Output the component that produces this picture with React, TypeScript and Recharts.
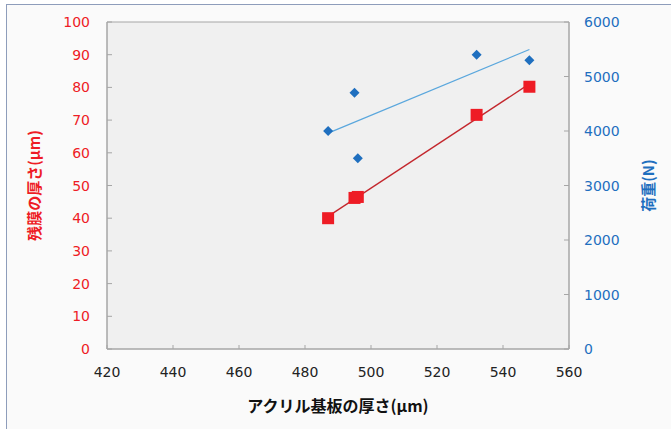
import React from 'react';
import {
  ScatterChart,
  Scatter,
  XAxis,
  YAxis,
  ReferenceArea,
} from 'recharts';

// アクリル基板の厚さ (µm)
const thickness = [487, 495, 496, 532, 548];
// 残膜の厚さ (µm)
const residual = [40, 46.2, 46.5, 71.6, 80.2];
// 荷重 (N)
const load = [4000, 4700, 3500, 5400, 5300];

const xTicks = [420, 440, 460, 480, 500, 520, 540, 560];
const leftTicks = [0, 10, 20, 30, 40, 50, 60, 70, 80, 90, 100];
const rightTicks = [0, 1000, 2000, 3000, 4000, 5000, 6000];

const residualData = thickness.map((x, i) => ({ x, y: residual[i] }));
const loadData = thickness.map((x, i) => ({ x, y: load[i] }));

const RED = '#ee1c25';
const BLUE = '#1f6fbf';
const GRID = '#a6a6a6';
const FONT = '"DejaVu Sans", sans-serif';
const JP = '"Noto Sans CJK JP", sans-serif';

const XTick = (props: any) => {
  const { x, y, payload } = props;
  return (
    <g>
      <line x1={x} y1={y} x2={x} y2={y - 4} stroke={GRID} />
      <text x={x} y={y + 23} textAnchor="middle" dominantBaseline="central" fontSize={14} fill="#222" fontFamily={FONT}>
        {payload.value}
      </text>
    </g>
  );
};

const LeftTick = (props: any) => {
  const { x, y, payload } = props;
  return (
    <g>
      <line x1={x} y1={y} x2={x + 5} y2={y} stroke={GRID} />
      <text x={x - 17} y={y} textAnchor="end" dominantBaseline="central" fontSize={14} fill={RED} fontFamily={FONT}>
        {payload.value}
      </text>
    </g>
  );
};

const RightTick = (props: any) => {
  const { x, y, payload } = props;
  return (
    <g>
      <line x1={x} y1={y} x2={x - 5} y2={y} stroke={GRID} />
      <text x={x + 15} y={y} textAnchor="start" dominantBaseline="central" fontSize={14} fill={BLUE} fontFamily={FONT}>
        {payload.value}
      </text>
    </g>
  );
};

const Square = (props: any) => {
  const { cx, cy } = props;
  if (cx == null || cy == null) return null;
  return <rect x={cx - 6} y={cy - 6} width={12} height={12} fill={RED} />;
};

const Diamond = (props: any) => {
  const { cx, cy } = props;
  if (cx == null || cy == null) return null;
  const r = 5;
  return (
    <polygon
      points={`${cx},${cy - r} ${cx + r},${cy} ${cx},${cy + r} ${cx - r},${cy}`}
      fill={BLUE}
    />
  );
};

const LeftTitle = (props: any) => {
  const { viewBox } = props;
  const cy = viewBox.y + viewBox.height / 2;
  return (
    <text
      x={33}
      y={cy}
      transform={`rotate(-90, 33, ${cy})`}
      textAnchor="middle"
      dominantBaseline="central"
      fontSize={15}
      fontWeight="bold"
      fill={RED}
      fontFamily={JP}
    >
      残膜の厚さ(μm)
    </text>
  );
};

const RightTitle = (props: any) => {
  const { viewBox } = props;
  const cy = viewBox.y + viewBox.height / 2;
  const cx = viewBox.x + 78;
  return (
    <text
      x={cx}
      y={cy}
      transform={`rotate(-90, ${cx}, ${cy})`}
      textAnchor="middle"
      dominantBaseline="central"
      fontSize={15}
      fontWeight="bold"
      fill={BLUE}
      fontFamily={JP}
    >
      荷重(N)
    </text>
  );
};

const BottomTitle = (props: any) => {
  const { viewBox } = props;
  const cx = viewBox.x + viewBox.width / 2;
  return (
    <text
      x={cx}
      y={viewBox.y + 56}
      textAnchor="middle"
      dominantBaseline="central"
      fontSize={16}
      fontWeight="bold"
      fill="#111"
      fontFamily={JP}
    >
      アクリル基板の厚さ(μm)
    </text>
  );
};

export default function App() {
  return (
    <div
      style={{
        position: 'fixed',
        left: 0,
        top: 0,
        width: 671,
        height: 429,
        overflow: 'hidden',
        background: '#ffffff',
      }}
    >
      <div
        style={{
          position: 'absolute',
          left: 6,
          top: 4,
          width: 700,
          height: 500,
          border: '1.5px solid #8e9dbb',
          background: '#fafafa',
        }}
      />
      <div style={{ position: 'absolute', left: 0, top: 0 }}>
        <ScatterChart
          width={671}
          height={429}
          margin={{ top: 22, right: 0, bottom: 0, left: 0 }}
        >
          <XAxis
            type="number"
            dataKey="x"
            domain={[420, 560]}
            ticks={xTicks}
            height={80}
            tickSize={0}
            tickMargin={0}
            axisLine={{ stroke: GRID }}
            tick={<XTick />}
            tickLine={false}
            interval={0}
            label={<BottomTitle />}
          />
          <YAxis
            yAxisId="left"
            type="number"
            dataKey="y"
            domain={[0, 100]}
            ticks={leftTicks}
            width={107}
            tickSize={0}
            tickMargin={0}
            axisLine={{ stroke: GRID }}
            tick={<LeftTick />}
            tickLine={false}
            interval={0}
            label={<LeftTitle />}
          />
          <YAxis
            yAxisId="right"
            orientation="right"
            type="number"
            dataKey="y"
            domain={[0, 6000]}
            ticks={rightTicks}
            width={102}
            tickSize={0}
            tickMargin={0}
            axisLine={{ stroke: GRID }}
            tick={<RightTick />}
            tickLine={false}
            interval={0}
            label={<RightTitle />}
          />
          <ReferenceArea
            yAxisId="left"
            x1={420}
            x2={560}
            y1={0}
            y2={100}
            fill="#f0f0f0"
            fillOpacity={1}
            stroke={GRID}
          />
          <Scatter
            yAxisId="right"
            data={loadData}
            shape={<Diamond />}
            line={{ stroke: '#5aa7dd', strokeWidth: 1.2 }}
            lineType="fitting"
            isAnimationActive={false}
          />
          <Scatter
            yAxisId="left"
            data={residualData}
            shape={<Square />}
            line={{ stroke: '#c3272d', strokeWidth: 1.3 }}
            lineType="fitting"
            isAnimationActive={false}
          />
        </ScatterChart>
      </div>
    </div>
  );
}
